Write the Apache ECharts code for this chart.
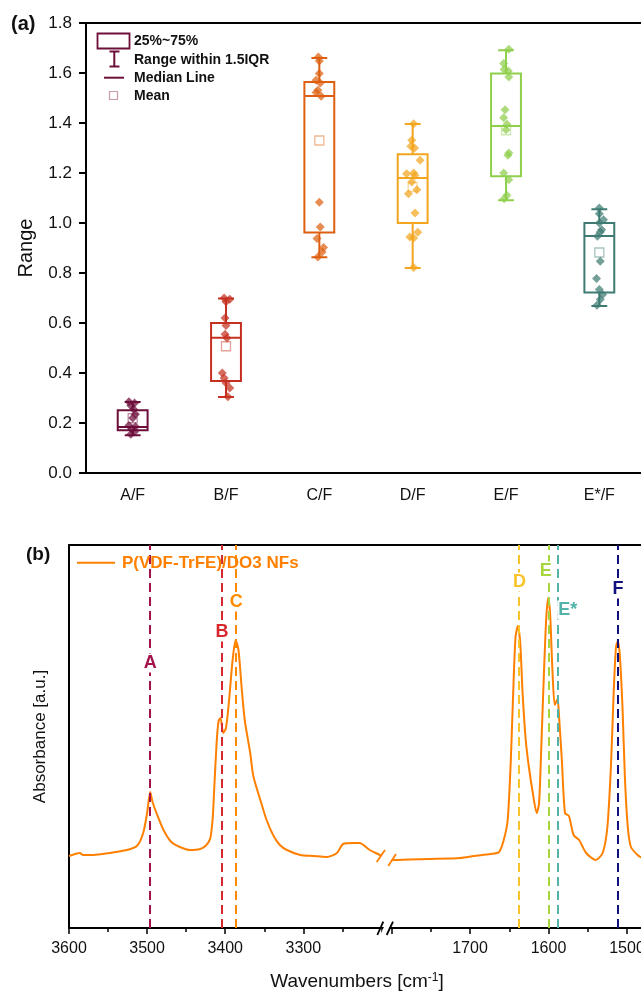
<!DOCTYPE html>
<html><head><meta charset="utf-8">
<script src="https://cdn.jsdelivr.net/npm/echarts@6/dist/echarts.min.js"></script>
<style>html,body{margin:0;padding:0;background:#fff}#c{width:641px;height:993px}</style>
</head><body><div id="c"></div>
<script>
// ---------- Panel (a) data ----------
const categories = ['A/F','B/F','C/F','D/F','E/F','E*/F'];
const whiskerLow  = [0.151, 0.304, 0.863, 0.820, 1.091, 0.668];
const q1          = [0.171, 0.368, 0.962, 1.000, 1.187, 0.722];
const median      = [0.184, 0.541, 1.508, 1.180, 1.388, 0.948];
const q3          = [0.251, 0.600, 1.564, 1.275, 1.598, 1.000];
const whiskerHigh = [0.284, 0.698, 1.660, 1.396, 1.691, 1.055];
const meanValues  = [0.219, 0.507, 1.330, 1.144, 1.371, 0.882];

const pointsA = [0.285,0.28,0.27,0.255,0.235,0.22,0.19,0.185,0.175,0.165,0.155];
const pointsB = [0.70,0.695,0.685,0.62,0.59,0.555,0.54,0.40,0.38,0.36,0.34,0.305];
const pointsC = [1.664,1.648,1.598,1.571,1.56,1.531,1.522,1.507,1.083,0.984,0.938,0.902,0.884,0.864];
const pointsD = [1.397,1.331,1.307,1.30,1.251,1.197,1.20,1.19,1.164,1.133,1.117,1.04,0.963,0.944,0.94,0.822];
const pointsE = [1.695,1.638,1.614,1.608,1.584,1.453,1.421,1.395,1.373,1.28,1.271,1.2,1.173,1.111,1.097];
const pointsEs = [1.06,1.037,1.013,1.0,0.973,0.964,0.947,0.847,0.778,0.734,0.714,0.694,0.671];

const jitterA = [-0.04,0.02,-0.02,0.01,0.03,0.0,-0.04,0.03,-0.01,0.02,-0.02];
const jitterB = [-0.02,0.04,0,-0.01,0,-0.01,0.01,-0.04,-0.02,0,0.04,0.02];
const jitterC = [-0.01,0,0,-0.035,0.01,-0.015,-0.035,0.02,0,0.01,-0.025,0.045,0.03,-0.015];
const jitterD = [0.01,-0.01,-0.02,0.02,0.08,-0.065,0.01,0.025,-0.01,0.045,-0.045,0.025,0.055,-0.03,0.01,0.01];
const jitterE = [0.03,-0.025,-0.02,0.025,0.03,-0.01,-0.025,0.01,0,0.03,0.02,-0.025,0.03,0.01,-0.02];
const jitterEs = [0,0,0.045,0,0.025,0.01,-0.02,0.01,-0.03,0,0.035,0.01,-0.025];

// ---------- Panel (b) data ----------
const leftWavenumbers = [3600,3586,3582,3569,3548,3526,3513,3505,3500,3496,3493,3488,3479,3469,3458,3445,3432,3424,3419,3416,3414,3411,3408.5,3406,3402.5,3399,3395,3390.5,3386.6,3383,3379,3375,3368,3364,3355,3347,3338,3330,3321,3304,3287,3270,3257,3249,3236,3228,3215,3202,3200];
const leftAbsorbance  = [72,75,73,73,75,78,82,95,115,136,126,115,98,86,81,78,79,83,90,110,140,185,207,210,195,200,228,268,288,278,241,208,175,152,128,108,92,83,78,73,72,71,75,84,85,85,78,73,72];
const rightWavenumbers = [1800,1797,1754,1712,1695,1674,1663,1657,1652,1648,1645,1642,1639,1636,1633,1629,1625,1620,1615,1612,1609,1606,1603,1600.5,1598,1595,1592,1588.5,1586.5,1583,1579,1574,1568,1561,1552,1540,1531,1525,1520.5,1517,1514,1511.6,1509,1505.6,1502.7,1499,1495,1486.5,1481];
const rightAbsorbance  = [68,68,69,70,72,74,76,88,108,168,235,291,302,285,235,188,161,135,115,125,185,251,308,330,315,258,223,229,211,168,115,112,93,88,75,68,75,101,161,235,281,287,271,218,151,101,81,73,70];

const peakNames = ['A','B','C','D','E','E*','F'];
const peakWavenumbers = [3496,3404,3386,1638,1600,1588,1512];
const peakColors = ['#a3124b','#d7282f','#ff8a00','#f8c42a','#a6d63c','#52b3aa','#10107f'];
const peakLabelX = [3496,3404,3386,1637,1603.5,1575.5,1511.6];
const peakLabelY = [265,296,326,346,357,318,339];

const FONT = 'Liberation Sans, Arial, Helvetica, sans-serif';
const boxColors = ['#6d0e3b','#c53020','#de5f10','#f3a51d','#8fcf4b','#3f7b73'];

const boxData = categories.map((c,i)=>[i, whiskerLow[i], q1[i], median[i], q3[i], whiskerHigh[i]]);
const pointGroups = [pointsA,pointsB,pointsC,pointsD,pointsE,pointsEs];
const jitterGroups = [jitterA,jitterB,jitterC,jitterD,jitterE,jitterEs];
const scatterData = [];
pointGroups.forEach((arr,i)=>arr.forEach((v,k)=>scatterData.push({value:[i+jitterGroups[i][k], v], itemStyle:{color:boxColors[i]}})));
const meanData = meanValues.map((m,i)=>({value:[i,m], itemStyle:{borderColor:boxColors[i]}}));

const leftSpec = leftWavenumbers.map((w,i)=>[w,leftAbsorbance[i]]);
const rightSpec = rightWavenumbers.map((w,i)=>[w,rightAbsorbance[i]]);

function peakMarks(isLeft){
  const d=[];
  peakWavenumbers.forEach((w,i)=>{ if((w>2500)===isLeft) d.push({xAxis:w, lineStyle:{color:peakColors[i], type:[9,5], width:2}}); });
  return d;
}
function peakLabels(isLeft){
  const d=[];
  peakNames.forEach((n,i)=>{ if((peakLabelX[i]>2500)===isLeft) d.push({value:[peakLabelX[i],peakLabelY[i]], name:n, label:{color:peakColors[i]}}); });
  return d;
}

const chart = echarts.init(document.getElementById('c'));
const black = '#000';
const segXBase = {
  type:'value', inverse:true, interval:100,
  axisLine:{show:false, onZero:false},
  axisTick:{show:true, length:6, inside:false, lineStyle:{color:black,width:1.5}},
  minorTick:{show:true, splitNumber:2, length:4, lineStyle:{color:black,width:1.5}},
  axisLabel:{fontFamily:FONT, fontSize:16, color:'#111', margin:13, formatter:v=>String(v)},
  splitLine:{show:false}, minorSplitLine:{show:false}
};
const peakLabelStyle = {show:true, position:'inside', formatter:p=>p.name, fontFamily:FONT, fontWeight:'bold', fontSize:18,
  backgroundColor:'#fff', padding:[1,1,0,1], opacity:1};
const option = {
  animation:false,
  backgroundColor:'#fff',
  grid:[
    {left:86, top:23, width:560, height:450, outerBoundsMode:'none'},
    {left:69, top:545, width:620, height:383, outerBoundsMode:'none'},
    {left:69, top:545, width:312.4, height:383, outerBoundsMode:'none'},
    {left:391.5, top:545, width:314, height:383, outerBoundsMode:'none'}
  ],
  xAxis:[
    {gridIndex:0, type:'category', data:categories, boundaryGap:true,
     axisLine:{onZero:false, lineStyle:{color:black,width:2}},
     axisTick:{alignWithLabel:true, length:7, lineStyle:{color:black,width:2}},
     axisLabel:{fontFamily:FONT, fontSize:16, color:'#111', margin:15}},
    {gridIndex:0, type:'value', min:-0.5, max:5.5, show:false},
    {gridIndex:0, type:'value', position:'top', min:0, max:1,
     axisLine:{show:true, onZero:false, lineStyle:{color:black,width:2}}, axisTick:{show:false}, axisLabel:{show:false}, splitLine:{show:false}},
    {gridIndex:1, type:'value', min:0, max:1,
     axisLine:{show:true, onZero:false, lineStyle:{color:black,width:2}}, axisTick:{show:false}, axisLabel:{show:false}, splitLine:{show:false}},
    {gridIndex:1, type:'value', position:'top', min:0, max:1,
     axisLine:{show:true, onZero:false, lineStyle:{color:black,width:2}}, axisTick:{show:false}, axisLabel:{show:false}, splitLine:{show:false}},
    Object.assign({}, segXBase, {gridIndex:2, min:3200, max:3600, axisLabel:Object.assign({}, segXBase.axisLabel, {showMinLabel:false})}),
    Object.assign({}, segXBase, {gridIndex:3, min:1400, max:1800, axisLabel:Object.assign({}, segXBase.axisLabel, {showMaxLabel:false})})
  ],
  yAxis:[
    {gridIndex:0, type:'value', min:0, max:1.8, interval:0.2,
     name:'Range', nameLocation:'middle', nameGap:50, nameRotate:90,
     nameTextStyle:{fontFamily:FONT, fontSize:20, color:'#111'},
     axisLine:{show:true, onZero:false, lineStyle:{color:black,width:2}},
     axisTick:{show:true, length:7, lineStyle:{color:black,width:2}},
     axisLabel:{fontFamily:FONT, fontSize:17, color:'#111', margin:14, formatter:v=>v.toFixed(1)},
     splitLine:{show:false}},
    {gridIndex:1, type:'value', min:0, max:1,
     name:'Absorbance [a.u.]', nameLocation:'middle', nameGap:20, nameRotate:90,
     nameTextStyle:{fontFamily:FONT, fontSize:17, color:'#111'},
     axisLine:{show:true, onZero:false, lineStyle:{color:black,width:2}}, axisTick:{show:false}, axisLabel:{show:false}, splitLine:{show:false}},
    {gridIndex:2, type:'value', min:0, max:383, show:false},
    {gridIndex:3, type:'value', min:0, max:383, show:false}
  ],
  series:[
    {type:'custom', xAxisIndex:0, yAxisIndex:0, data:boxData, z:2,
     encode:{x:0, y:[1,2,3,4,5]},
     renderItem:function(params, api){
       const i = api.value(0);
       const lo = api.coord([i, api.value(1)]);
       const b1 = api.coord([i, api.value(2)]);
       const md = api.coord([i, api.value(3)]);
       const b3 = api.coord([i, api.value(4)]);
       const hi = api.coord([i, api.value(5)]);
       const band = api.size([1,0])[0];
       const bw = band*0.32, cw = band*0.17;
       const col = boxColors[i];
       const x = lo[0];
       const st = {stroke:col, lineWidth:2, fill:null};
       return {type:'group', children:[
         {type:'line', shape:{x1:x,y1:hi[1],x2:x,y2:b3[1]}, style:st},
         {type:'line', shape:{x1:x,y1:b1[1],x2:x,y2:lo[1]}, style:st},
         {type:'line', shape:{x1:x-cw/2,y1:hi[1],x2:x+cw/2,y2:hi[1]}, style:st},
         {type:'line', shape:{x1:x-cw/2,y1:lo[1],x2:x+cw/2,y2:lo[1]}, style:st},
         {type:'rect', shape:{x:x-bw/2,y:b3[1],width:bw,height:b1[1]-b3[1]}, style:{stroke:col,lineWidth:2,fill:'rgba(255,255,255,0)'}},
         {type:'line', shape:{x1:x-bw/2,y1:md[1],x2:x+bw/2,y2:md[1]}, style:st}
       ]};
     }},
    {type:'scatter', xAxisIndex:1, yAxisIndex:0, data:scatterData, symbol:'diamond', symbolSize:9, z:3,
     itemStyle:{opacity:0.72}},
    {type:'scatter', xAxisIndex:1, yAxisIndex:0, data:meanData, symbol:'rect', symbolSize:9, z:4,
     itemStyle:{color:'rgba(255,255,255,0)', borderWidth:1.3, opacity:0.45}},
    {type:'line', xAxisIndex:5, yAxisIndex:2, data:leftSpec, showSymbol:false, smooth:0.25, z:3,
     lineStyle:{color:'#ff8000', width:2},
     markLine:{silent:true, symbol:['none','none'], label:{show:false}, data:peakMarks(true)}},
    {type:'line', xAxisIndex:6, yAxisIndex:3, data:rightSpec, showSymbol:false, smooth:0.25, z:3,
     lineStyle:{color:'#ff8000', width:2},
     markLine:{silent:true, symbol:['none','none'], label:{show:false}, data:peakMarks(false)}},
    {type:'scatter', xAxisIndex:5, yAxisIndex:2, data:peakLabels(true), symbolSize:0, z:5, itemStyle:{opacity:1}, label:peakLabelStyle},
    {type:'scatter', xAxisIndex:6, yAxisIndex:3, data:peakLabels(false), symbolSize:0, z:5, itemStyle:{opacity:1}, label:peakLabelStyle}
  ],
  graphic:[
    // panel tags
    {type:'text', left:11, top:14, style:{text:'(a)', fontFamily:FONT, fontWeight:'bold', fontSize:20, fill:'#111'}},
    {type:'text', left:26, top:545, style:{text:'(b)', fontFamily:FONT, fontWeight:'bold', fontSize:19, fill:'#111'}},
    // panel (a) legend
    {type:'rect', shape:{x:97.5,y:33.5,width:32,height:15}, style:{fill:'#fff', stroke:'#6d0e3b', lineWidth:1.8}},
    {type:'line', shape:{x1:114.3,y1:51.5,x2:114.3,y2:66.5}, style:{stroke:'#6d0e3b', lineWidth:2}},
    {type:'line', shape:{x1:109.5,y1:51.5,x2:119.5,y2:51.5}, style:{stroke:'#6d0e3b', lineWidth:2}},
    {type:'line', shape:{x1:109.5,y1:66.5,x2:119.5,y2:66.5}, style:{stroke:'#6d0e3b', lineWidth:2}},
    {type:'line', shape:{x1:104,y1:77.7,x2:124,y2:77.7}, style:{stroke:'#6d0e3b', lineWidth:2}},
    {type:'rect', shape:{x:109.5,y:91.5,width:8,height:8}, style:{fill:'#fff', stroke:'#c79aae', lineWidth:1.2}},
    {type:'text', x:134, y:41.5, style:{text:'25%~75%', fontFamily:FONT, fontWeight:'bold', fontSize:14, fill:'#111', verticalAlign:'middle'}},
    {type:'text', x:134, y:60, style:{text:'Range within 1.5IQR', fontFamily:FONT, fontWeight:'bold', fontSize:14, fill:'#111', verticalAlign:'middle'}},
    {type:'text', x:134, y:78, style:{text:'Median Line', fontFamily:FONT, fontWeight:'bold', fontSize:14, fill:'#111', verticalAlign:'middle'}},
    {type:'text', x:134, y:96, style:{text:'Mean', fontFamily:FONT, fontWeight:'bold', fontSize:14, fill:'#111', verticalAlign:'middle'}},
    // panel (b) legend
    {type:'line', shape:{x1:77,y1:562.7,x2:115,y2:562.7}, style:{stroke:'#ff8000', lineWidth:2}},
    {type:'text', x:122, y:563, z:20, style:{text:'P(VDF-TrFE)/DO3 NFs', fontFamily:FONT, fontWeight:'bold', fontSize:17, fill:'#ff8000', verticalAlign:'middle'}},
    // x axis title panel (b)
    {type:'text', x:357, y:982, style:{
      text:'{a|Wavenumbers [cm}{s|-1}{a|]}', align:'center', verticalAlign:'middle',
      rich:{a:{fontFamily:FONT, fontSize:19, fill:'#111'}, s:{fontFamily:FONT, fontSize:12, fill:'#111', verticalAlign:'top', padding:[0,0,9,0]}}}},
    // axis break marks
    {type:'polygon', shape:{points:[[380.3,935],[386.3,921.7],[392,921.7],[386,935]]}, style:{fill:'#fff'}, z:10},
    {type:'line', shape:{x1:377.3,y1:935,x2:383.3,y2:921.7}, style:{stroke:'#000', lineWidth:1.8}, z:11},
    {type:'line', shape:{x1:386.7,y1:935,x2:393,y2:921.7}, style:{stroke:'#000', lineWidth:1.8}, z:11},
    {type:'line', shape:{x1:376.7,y1:862,x2:385,y2:850}, style:{stroke:'#ff8000', lineWidth:1.8}, z:11},
    {type:'line', shape:{x1:388.3,y1:866,x2:396,y2:854}, style:{stroke:'#ff8000', lineWidth:1.8}, z:11}
  ]
};
chart.setOption(option);
</script>
</body></html>
